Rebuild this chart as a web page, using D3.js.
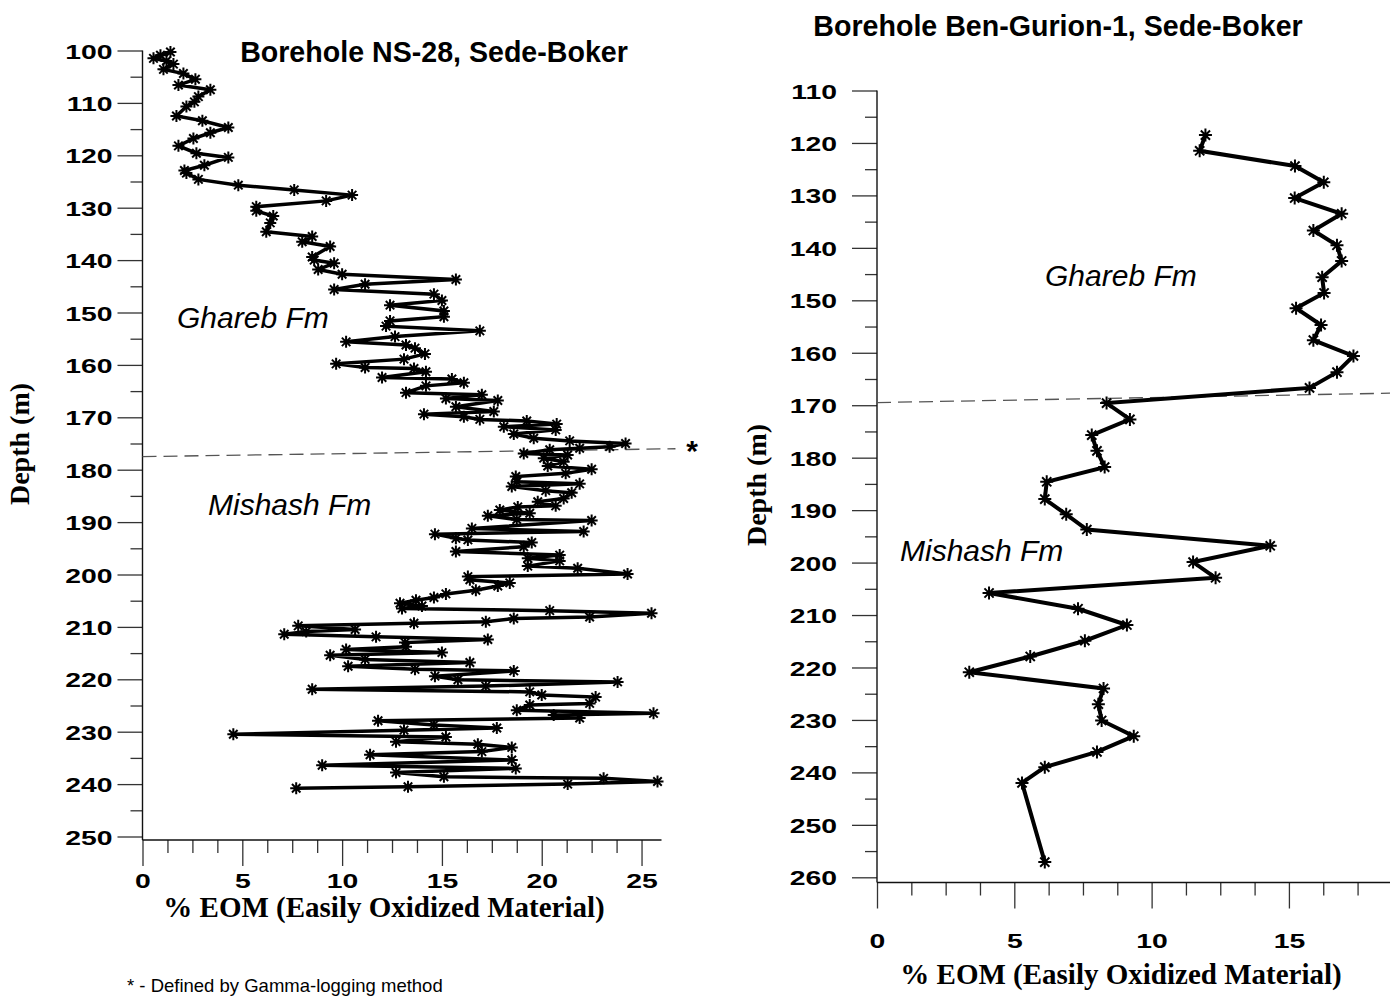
<!DOCTYPE html>
<html>
<head>
<meta charset="utf-8">
<script src="https://cdn.jsdelivr.net/npm/d3@7"></script>
<style>
  html, body { margin: 0; padding: 0; background: #fff; }
  svg { display: block; }
</style>
</head>
<body>
<svg id="chart" width="1390" height="1003"></svg>
<script>
// ---------------- DATA ----------------
// Borehole NS-28 (left)
const ns28Depth = [100.3,100.9,101.5,102.0,102.6,103.6,104.4,105.5,106.6,107.5,108.8,109.8,110.7,112.5,113.4,114.7,115.7,116.8,118.2,119.6,120.4,121.9,122.9,123.4,124.6,125.7,126.6,127.6,128.7,129.8,130.6,131.6,132.9,134.6,135.5,136.5,137.4,139.4,140.0,140.6,141.8,142.7,143.7,144.6,145.6,146.5,147.7,148.6,149.7,150.8,151.6,152.6,153.5,154.6,155.6,156.2,156.8,157.9,158.9,159.8,160.5,160.7,161.3,162.4,162.7,163.4,164.0,165.3,165.7,166.4,166.8,168.0,168.9,169.4,169.9,170.4,170.7,171.3,171.8,172.4,173.2,174.0,174.5,175.0,175.6,175.9,176.2,176.9,177.2,177.8,178.5,179.3,179.9,180.7,181.3,182.3,182.7,183.2,184.0,184.4,185.5,186.1,186.9,187.1,187.7,188.3,188.8,189.5,189.7,191.2,191.8,192.3,193.1,193.4,193.9,194.7,195.6,196.3,196.9,197.4,198.4,198.8,199.9,200.4,201.0,201.6,202.2,203.0,203.7,204.4,204.9,205.5,206.0,206.5,206.9,207.4,208.1,208.4,209.0,209.3,209.8,210.5,210.9,211.4,211.9,212.4,213.0,213.8,214.3,214.9,215.4,216.2,216.8,217.5,218.1,218.4,219.4,220.1,220.5,221.3,221.9,222.4,223.0,223.4,224.6,224.9,225.9,226.5,226.8,227.4,227.9,228.7,229.3,229.7,230.5,231.0,231.9,232.4,233.0,233.8,234.4,235.4,236.4,237.0,237.8,238.6,238.9,239.5,240.0,240.5,240.8];
const ns28EOM = [1.4,0.9,0.55,1.2,1.55,1.05,2.05,2.65,1.8,3.4,2.8,2.6,2.2,1.7,3.0,4.3,3.4,2.55,1.8,2.7,4.3,3.1,2.1,2.2,2.8,4.8,7.6,10.5,9.2,5.7,5.7,6.55,6.4,6.2,8.5,8.0,9.4,8.5,8.6,9.6,8.8,10.0,15.7,11.15,9.6,14.6,15.0,12.4,15.1,15.1,12.4,12.2,16.9,12.65,10.2,13.2,13.65,14.15,13.1,9.7,11.15,13.6,14.2,12.0,15.5,16.1,14.2,13.2,17.0,15.2,17.8,15.7,17.6,14.1,16.1,16.9,19.25,20.75,18.1,20.7,18.6,19.6,21.4,24.2,23.4,21.9,20.4,19.1,21.3,20.1,21.1,20.3,22.5,21.2,18.7,18.75,21.9,18.5,20.2,21.5,21.1,19.8,20.7,18.8,17.9,19.4,17.3,18.75,22.5,16.5,22.1,14.65,15.7,16.3,19.5,19.1,15.7,20.9,19.3,20.9,19.3,21.8,24.3,16.3,16.4,18.4,17.8,16.7,15.2,14.6,13.7,12.9,14.0,13.0,20.4,25.5,22.4,18.6,17.2,13.6,7.8,10.65,8.2,7.1,11.7,17.3,13.15,13.2,10.2,15.0,9.4,11.15,16.4,10.3,13.65,18.6,14.65,15.8,23.8,17.2,8.5,19.4,20.0,22.7,22.4,19.4,18.75,25.6,20.6,21.9,11.8,14.6,17.75,13.1,4.55,15.2,12.7,16.8,18.5,17.0,11.4,18.5,9.0,18.7,12.7,15.1,23.1,25.8,21.3,13.3,7.7];

// Borehole Ben-Gurion-1 (right)
const bgDepth = [118.5,121.5,124.4,127.5,130.5,133.5,136.7,139.5,142.5,145.6,148.6,151.5,154.7,157.6,160.6,163.7,166.7,169.6,172.7,175.7,178.7,181.8,184.6,187.9,190.8,193.7,196.8,199.9,202.9,205.8,208.8,211.9,214.9,217.9,220.9,224.0,227.0,230.1,233.1,236.1,239.0,242.0,257.1];
const bgEOM = [11.96,11.75,15.22,16.27,15.21,16.92,15.89,16.75,16.92,16.21,16.28,15.26,16.17,15.89,17.35,16.75,15.75,8.36,9.21,7.82,8.01,8.29,6.18,6.11,6.89,7.64,14.32,11.51,12.33,4.08,7.32,9.10,7.57,5.58,3.36,8.25,8.06,8.18,9.35,8.01,6.11,5.28,6.11];

// Axis tick values
const nsMajorY = [100,110,120,130,140,150,160,170,180,190,200,210,220,230,240,250];
const nsMinorY = [105,115,125,135,145,155,165,175,185,195,205,215,225,235,245];
const bgMajorY = [110,120,130,140,150,160,170,180,190,200,210,220,230,240,250,260];
const bgMinorY = [115,125,135,145,155,165,175,185,195,205,215,225,235,245,255];
const nsMajorX = [0,5,10,15,20,25];
const nsMinorX = [1.25,2.5,3.75,6.25,7.5,8.75,11.25,12.5,13.75,16.25,17.5,18.75,21.25,22.5,23.75];
const bgMajorX = [0,5,10,15];
const bgMinorX = [1.25,2.5,3.75,6.25,7.5,8.75,11.25,12.5,13.75,16.25,17.5,18.75];

// Formation boundaries (dashed lines) [x, depth]
const nsBoundary = [[0,177.5],[26.7,176.0]];
const bgBoundary = [[0,169.5],[18.75,167.7]];

// ---------------- DRAW ----------------
const svg = d3.select("#chart");
const LABEL_SX = 1.35;

function starPath(r) {
  let p = "";
  for (let i = 0; i < 4; i++) {
    const a = i * Math.PI / 4;
    const dx = r * Math.cos(a), dy = r * Math.sin(a);
    p += `M${-dx},${-dy}L${dx},${dy}`;
  }
  return p;
}

function panel(cfg) {
  const x = d3.scaleLinear().domain(cfg.xDomain).range(cfg.xRange);
  const y = d3.scaleLinear().domain(cfg.yDomain).range(cfg.yRange);
  const g = svg.append("g");

  const yMaj = g.append("g").attr("transform", `translate(${cfg.xRange[0]},0)`)
    .call(d3.axisLeft(y).tickValues(cfg.majorY).tickSize(25).tickSizeOuter(0).tickFormat(d3.format("d")));
  const yMin = g.append("g").attr("transform", `translate(${cfg.xRange[0]},0)`)
    .call(d3.axisLeft(y).tickValues(cfg.minorY).tickSize(12).tickSizeOuter(0).tickFormat(""));
  [yMaj, yMin].forEach(a => { a.select(".domain").remove(); a.selectAll("line").attr("stroke", "#333").attr("stroke-width", 1.3); });
  yMaj.selectAll("text")
    .attr("x", -cfg.yLabelGap / LABEL_SX)
    .attr("transform", `scale(${LABEL_SX},1)`)
    .attr("dy", "0.36em")
    .style("font-family", "'Liberation Sans', Arial, sans-serif")
    .style("font-weight", "bold").style("font-size", "21px").attr("fill", "#000");

  const xMaj = g.append("g").attr("transform", `translate(0,${cfg.xAxisY})`)
    .call(d3.axisBottom(x).tickValues(cfg.majorX).tickSize(26).tickSizeOuter(0).tickFormat(d3.format("d")));
  const xMin = g.append("g").attr("transform", `translate(0,${cfg.xAxisY})`)
    .call(d3.axisBottom(x).tickValues(cfg.minorX).tickSize(13).tickSizeOuter(0).tickFormat(""));
  [xMaj, xMin].forEach(a => { a.select(".domain").remove(); a.selectAll("line").attr("stroke", "#333").attr("stroke-width", 1.3); });
  xMaj.selectAll("text")
    .attr("y", cfg.xLabelY - cfg.xAxisY).attr("dy", 0)
    .attr("transform", `scale(${LABEL_SX},1)`)
    .style("font-family", "'Liberation Sans', Arial, sans-serif")
    .style("font-weight", "bold").style("font-size", "21px").attr("fill", "#000");

  g.append("line").attr("x1", cfg.xRange[0]).attr("x2", cfg.xRange[0])
    .attr("y1", y(cfg.yDomain[0])).attr("y2", cfg.xAxisY)
    .attr("stroke", "#111").attr("stroke-width", 1.4);
  g.append("line").attr("x1", cfg.xRange[0]).attr("x2", x(cfg.xDomain[1]))
    .attr("y1", cfg.xAxisY).attr("y2", cfg.xAxisY)
    .attr("stroke", "#111").attr("stroke-width", 1.4);

  g.append("line")
    .attr("x1", x(cfg.boundary[0][0])).attr("y1", y(cfg.boundary[0][1]))
    .attr("x2", x(cfg.boundary[1][0])).attr("y2", y(cfg.boundary[1][1]))
    .attr("stroke", "#555").attr("stroke-width", 1.3).attr("stroke-dasharray", "14,7");

  const pts = cfg.depth.map((d, i) => [cfg.eom[i], d]);
  g.append("path").datum(pts)
    .attr("fill", "none").attr("stroke", "#000").attr("stroke-width", cfg.lw)
    .attr("stroke-linejoin", "miter").attr("stroke-miterlimit", 3)
    .attr("d", d3.line().x(p => x(p[0])).y(p => y(p[1])));

  g.append("g").selectAll("path").data(pts).join("path")
    .attr("transform", p => `translate(${x(p[0])},${y(p[1])})`)
    .attr("d", starPath(cfg.mr))
    .attr("stroke", "#000").attr("stroke-width", 2).attr("fill", "none");

  g.append("text").attr("x", cfg.xTitle[0]).attr("y", cfg.xTitle[1])
    .attr("text-anchor", "middle")
    .style("font-family", "'Liberation Serif', 'Times New Roman', serif")
    .style("font-weight", "bold").style("font-size", "29px")
    .text("% EOM (Easily Oxidized Material)");
  g.append("text")
    .attr("transform", `translate(${cfg.yTitle[0]},${cfg.yTitle[1]}) rotate(-90)`)
    .attr("text-anchor", "middle")
    .style("font-family", "'Liberation Serif', 'Times New Roman', serif")
    .style("font-weight", "bold").style("font-size", "28px")
    .text("Depth (m)");

  g.append("text").attr("x", cfg.title[0]).attr("y", cfg.title[1])
    .attr("text-anchor", "middle")
    .style("font-family", "'Liberation Sans', Arial, sans-serif")
    .style("font-weight", "bold").style("font-size", "28.6px")
    .text(cfg.titleText);

  cfg.forms.forEach(f => {
    g.append("text").attr("x", f[1]).attr("y", f[2])
      .style("font-family", "'Liberation Sans', Arial, sans-serif")
      .style("font-style", "italic").style("font-size", "30px")
      .text(f[0]);
  });
  return {x, y, g};
}

panel({
  xDomain: [0, 26], xRange: [142.5, 661.5],
  yDomain: [100, 250], yRange: [50.5, 836.5],
  xAxisY: 840, xLabelY: 888, yLabelGap: 30,
  majorY: nsMajorY, minorY: nsMinorY, majorX: nsMajorX, minorX: nsMinorX,
  depth: ns28Depth, eom: ns28EOM, lw: 3.5, mr: 6,
  boundary: nsBoundary,
  xTitle: [384, 917], yTitle: [29, 444],
  title: [434, 62], titleText: "Borehole NS-28, Sede-Boker",
  forms: [["Ghareb Fm", 177, 328], ["Mishash Fm", 208, 515]]
});

panel({
  xDomain: [0, 18.75], xRange: [877, 1391.9],
  yDomain: [110, 260], yRange: [90.5, 877.3],
  xAxisY: 882.5, xLabelY: 948, yLabelGap: 40,
  majorY: bgMajorY, minorY: bgMinorY, majorX: bgMajorX, minorX: bgMinorX,
  depth: bgDepth, eom: bgEOM, lw: 4, mr: 6.5,
  boundary: bgBoundary,
  xTitle: [1121, 984], yTitle: [766, 485],
  title: [1058, 36], titleText: "Borehole Ben-Gurion-1, Sede-Boker",
  forms: [["Ghareb Fm", 1045, 286], ["Mishash Fm", 900, 561]]
});

svg.append("text").attr("x", 692).attr("y", 461).attr("text-anchor", "middle")
  .style("font-family", "'Liberation Sans', Arial, sans-serif")
  .style("font-weight", "bold").style("font-size", "30px").text("*");

svg.append("text").attr("x", 127).attr("y", 992)
  .style("font-family", "'Liberation Sans', Arial, sans-serif")
  .style("font-size", "18.5px")
  .text("* - Defined by Gamma-logging method");
</script>
</body>
</html>
